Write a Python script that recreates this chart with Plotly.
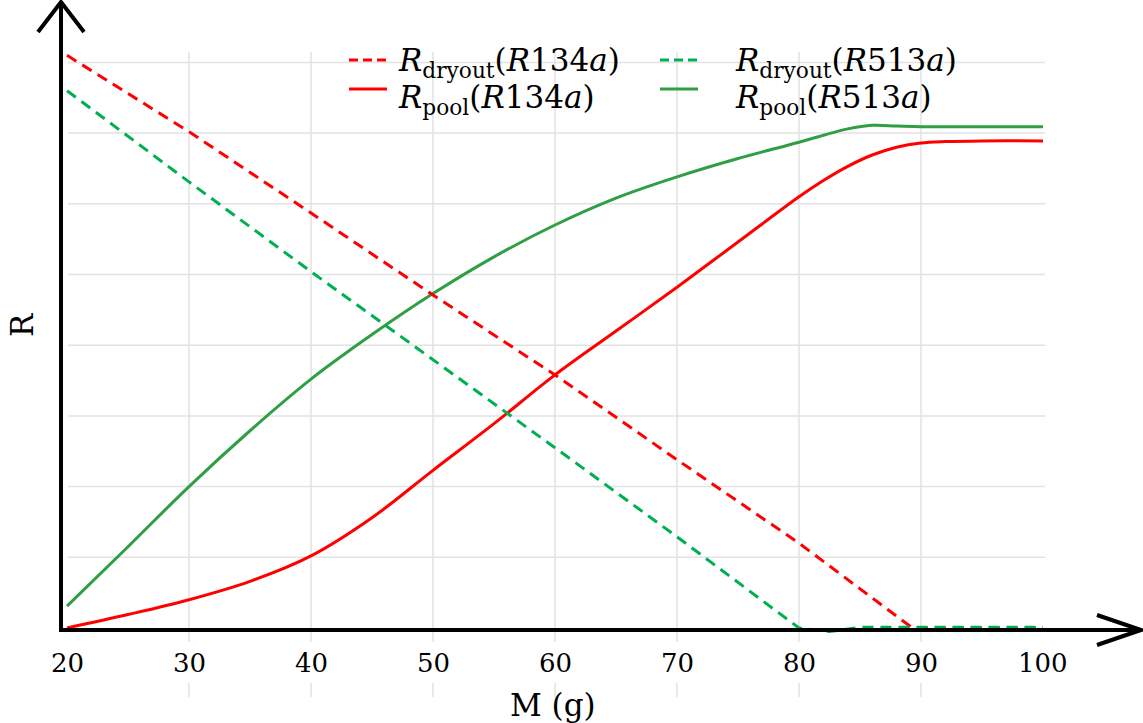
import plotly.graph_objects as go

# ---- data -------------------------------------------------------------
# charge mass M (g) and the dimensionless ratio R for each refrigerant
m_dry_r134a = [20, 30, 40, 50, 60, 70, 80, 89.3, 100]
r_dry_r134a = [8.10, 7.02, 5.87, 4.71, 3.58, 2.38, 1.20, 0.0, 0.0]

m_dry_r513a = [20, 30, 40, 50, 60, 70, 80, 82.5, 85, 100]
r_dry_r513a = [7.60, 6.31, 5.04, 3.80, 2.55, 1.29, 0.0, -0.05, 0.01, 0.01]

m_pool_r134a = [20, 25, 30, 35, 40, 45, 50, 55, 60, 65, 70, 75, 80, 82, 84, 86, 88, 90, 92, 95, 100]
r_pool_r134a = [0.0, 0.19, 0.40, 0.66, 1.02, 1.56, 2.23, 2.89, 3.58, 4.20, 4.82, 5.46, 6.10,
                6.33, 6.53, 6.69, 6.80, 6.86, 6.88, 6.89, 6.89]

m_pool_r513a = [20, 25, 30, 35, 40, 45, 50, 55, 60, 65, 70, 75, 80, 82, 84, 86, 88, 90, 95, 100]
r_pool_r513a = [0.31, 1.15, 2.0, 2.79, 3.52, 4.15, 4.73, 5.25, 5.70, 6.08, 6.38, 6.64, 6.87,
                6.97, 7.06, 7.11, 7.10, 7.09, 7.09, 7.09]

x_ticks = [20, 30, 40, 50, 60, 70, 80, 90, 100]
x_tick_labels = ["20", "30", "40", "50", "60", "70", "80", "90", "100"]
y_grid = [1, 2, 3, 4, 5, 6, 7, 8]

legend_labels = [
    "<i>R</i><sub>dryout</sub>(<i>R</i>134<i>a</i>)",
    "<i>R</i><sub>pool</sub>(<i>R</i>134<i>a</i>)",
    "<i>R</i><sub>dryout</sub>(<i>R</i>513<i>a</i>)",
    "<i>R</i><sub>pool</sub>(<i>R</i>513<i>a</i>)",
]

# ---- styling ----------------------------------------------------------
W, H = 1143, 723
RED = "#ff0000"
GREEN_SOLID = "#2f9e44"
GREEN_DASH = "#00b050"
GRID = "#e2e2e2"
FONT = "DejaVu Serif"

# plot area fills the whole page; ranges chosen so 20..100 and 0..8 sit inside
X_RANGE = [14.508, 108.197]
Y_RANGE = [-1.3437, 8.8826]


def px(xp):
    return xp / W


def py(yp):
    return 1 - yp / H


fig = go.Figure()

fig.add_trace(go.Scatter(x=m_pool_r134a, y=r_pool_r134a, mode="lines",
                         line=dict(color=RED, width=3, shape="spline", smoothing=1.0)))
fig.add_trace(go.Scatter(x=m_pool_r513a, y=r_pool_r513a, mode="lines",
                         line=dict(color=GREEN_SOLID, width=3, shape="spline", smoothing=1.0)))
fig.add_trace(go.Scatter(x=m_dry_r134a, y=r_dry_r134a, mode="lines",
                         line=dict(color=RED, width=3, dash="11px,7px")))
fig.add_trace(go.Scatter(x=m_dry_r513a, y=r_dry_r513a, mode="lines",
                         line=dict(color=GREEN_DASH, width=3, dash="11px,7px")))

shapes = []
# vertical grid lines, interrupted where the tick labels sit
for xv in x_ticks[1:-1]:
    shapes.append(dict(type="line", xref="x", yref="paper", x0=xv, x1=xv,
                       y0=py(52), y1=py(642), line=dict(color=GRID, width=1.5), layer="below"))
    shapes.append(dict(type="line", xref="x", yref="paper", x0=xv, x1=xv,
                       y0=py(683), y1=py(697), line=dict(color=GRID, width=1.5), layer="below"))
# horizontal grid lines
for yv in y_grid:
    shapes.append(dict(type="line", xref="paper", yref="y", x0=px(68), x1=px(1045),
                       y0=yv, y1=yv, line=dict(color=GRID, width=1.5), layer="below"))

# axes with open arrow heads
axis_line = dict(color="black", width=4)
shapes.append(dict(type="line", xref="paper", yref="paper", x0=px(61), x1=px(61),
                   y0=py(632), y1=py(3), line=axis_line))
shapes.append(dict(type="line", xref="paper", yref="paper", x0=px(59), x1=px(1140),
                   y0=py(630), y1=py(630), line=axis_line))
shapes.append(dict(type="path", xref="paper", yref="paper",
                   path=f"M {px(38)} {py(32)} L {px(61)} {py(2)} L {px(84)} {py(32)}",
                   line=axis_line))
shapes.append(dict(type="path", xref="paper", yref="paper",
                   path=f"M {px(1097)} {py(615)} L {px(1141)} {py(630)} L {px(1097)} {py(645)}",
                   line=axis_line))

# legend samples
legend_rows = [60, 89]
legend_cols = [(349, 387), (660, 698)]
legend_styles = [(RED, "dash"), (RED, "solid"), (GREEN_DASH, "dash"), (GREEN_SOLID, "solid")]
for i, (color, dash) in enumerate(legend_styles):
    col, row = divmod(i, 2)
    x0, x1 = legend_cols[col]
    yy = legend_rows[row]
    shapes.append(dict(type="line", xref="paper", yref="paper", x0=px(x0), x1=px(x1),
                       y0=py(yy), y1=py(yy),
                       line=dict(color=color, width=3, dash="9px,5px" if dash == "dash" else "solid")))

annotations = []
for xv, lab in zip(x_ticks, x_tick_labels):
    annotations.append(dict(x=xv, y=py(663), xref="x", yref="paper", text=lab,
                            showarrow=False, xanchor="center", yanchor="middle",
                            font=dict(family=FONT, size=26, color="black")))
annotations.append(dict(x=px(553), y=py(705), xref="paper", yref="paper", text="M (g)",
                        showarrow=False, xanchor="center", yanchor="middle",
                        font=dict(family=FONT, size=31, color="black")))
annotations.append(dict(x=px(22), y=py(325), xref="paper", yref="paper", text="R",
                        showarrow=False, xanchor="center", yanchor="middle", textangle=-90,
                        font=dict(family=FONT, size=31, color="black")))

legend_text_x = [396, 733]
legend_text_y = [62, 100]
for i, lab in enumerate(legend_labels):
    col, row = divmod(i, 2)
    annotations.append(dict(x=px(legend_text_x[col]), y=py(legend_text_y[row]), xref="paper",
                            yref="paper", text=lab, showarrow=False, xanchor="left",
                            yanchor="middle", font=dict(family=FONT, size=31, color="black")))

fig.update_layout(
    width=W, height=H,
    margin=dict(l=0, r=0, t=0, b=0),
    paper_bgcolor="white", plot_bgcolor="white",
    showlegend=False,
    xaxis=dict(range=X_RANGE, visible=False, fixedrange=True),
    yaxis=dict(range=Y_RANGE, visible=False, fixedrange=True),
    shapes=shapes,
    annotations=annotations,
)

fig.write_html("out.html")
